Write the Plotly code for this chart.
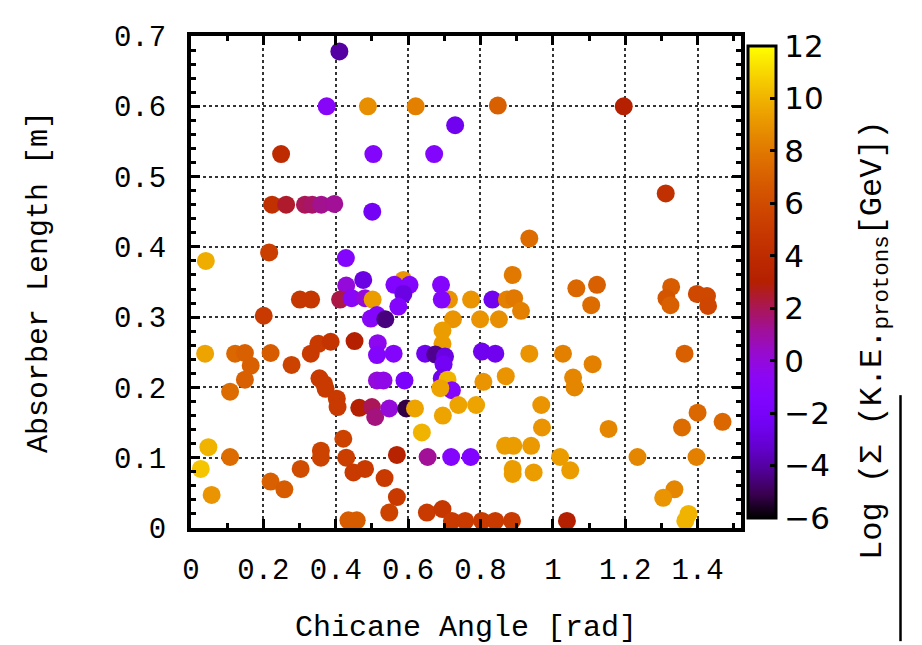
import math
import plotly.graph_objects as go

# chicane angle [rad]
angle = [
    0.410, 0.375, 0.489, 0.621, 0.848, 1.196, 0.730, 0.249, 0.504, 0.672,
    1.312, 0.224, 0.263, 0.315, 0.335, 0.360, 0.396, 0.501, 0.216, 0.041,
    0.428, 0.935, 0.476, 0.429, 0.889, 0.587, 0.562, 0.604, 0.587, 0.573,
    0.691, 0.713, 0.693, 0.774, 0.833, 0.873, 0.893, 0.912, 0.724, 0.799,
    0.851, 0.301, 0.332, 0.412, 0.444, 0.481, 0.502, 0.201, 0.497, 0.514,
    0.537, 1.065, 1.122, 1.106, 1.327, 1.314, 1.325, 1.398, 1.426, 1.429,
    0.695, 0.695, 0.516, 0.514, 0.560, 0.647, 0.675, 0.702, 0.804, 0.841,
    0.935, 1.028, 1.364, 0.039, 0.122, 0.149, 0.220, 0.331, 0.352, 0.386,
    0.452, 0.278, 0.165, 0.149, 0.108, 0.355, 0.368, 0.372, 0.403, 0.405,
    0.465, 0.500, 0.509, 0.698, 0.693, 0.709, 0.721, 0.689, 0.514, 0.532,
    0.590, 0.808, 0.870, 1.110, 1.056, 1.060, 0.548, 0.595, 0.619, 0.739,
    0.788, 0.696, 0.638, 0.968, 0.970, 1.400, 1.469, 1.357, 1.154, 0.048,
    0.108, 0.027, 0.057, 0.421, 0.359, 0.359, 0.429, 0.449, 0.481, 0.535,
    0.303, 0.220, 0.258, 0.569, 0.654, 0.719, 0.773, 0.868, 0.891, 0.940,
    0.889, 0.889, 0.947, 1.020, 1.048, 1.234, 1.397, 1.336, 1.305, 1.375,
    1.366, 0.569, 0.548, 0.652, 0.695, 0.721, 0.758, 0.804, 0.841, 0.887,
    1.039, 0.435, 0.458,
]

# absorber length [m]
length = [
    0.678, 0.600, 0.600, 0.600, 0.601, 0.600, 0.573, 0.532, 0.532, 0.532,
    0.476, 0.460, 0.460, 0.460, 0.460, 0.460, 0.461, 0.450, 0.392, 0.380,
    0.384, 0.412, 0.353, 0.345, 0.360, 0.353, 0.346, 0.346, 0.333, 0.315,
    0.346, 0.325, 0.325, 0.325, 0.325, 0.325, 0.327, 0.309, 0.297, 0.297,
    0.297, 0.325, 0.325, 0.325, 0.327, 0.327, 0.325, 0.302, 0.298, 0.303,
    0.297, 0.341, 0.346, 0.317, 0.343, 0.327, 0.317, 0.333, 0.330, 0.316,
    0.281, 0.262, 0.263, 0.246, 0.248, 0.248, 0.247, 0.244, 0.251, 0.248,
    0.248, 0.248, 0.248, 0.248, 0.248, 0.249, 0.249, 0.248, 0.262, 0.265,
    0.266, 0.232, 0.231, 0.211, 0.194, 0.213, 0.205, 0.198, 0.184, 0.172,
    0.171, 0.172, 0.158, 0.233, 0.213, 0.211, 0.196, 0.199, 0.210, 0.210,
    0.210, 0.208, 0.216, 0.233, 0.214, 0.200, 0.170, 0.170, 0.170, 0.175,
    0.175, 0.160, 0.136, 0.175, 0.143, 0.164, 0.151, 0.143, 0.141, 0.115,
    0.101, 0.084, 0.047, 0.127, 0.110, 0.100, 0.100, 0.079, 0.084, 0.071,
    0.084, 0.066, 0.055, 0.104, 0.101, 0.101, 0.101, 0.117, 0.117, 0.117,
    0.084, 0.077, 0.079, 0.101, 0.082, 0.101, 0.101, 0.055, 0.043, 0.020,
    0.010, 0.044, 0.022, 0.022, 0.027, 0.010, 0.010, 0.010, 0.010, 0.010,
    0.010, 0.011, 0.011,
]

# log of summed proton kinetic energy [GeV]
log_ke = [
    -4.0, -1.0, 8.8, 8.3, 7.0, 3.0, -2.5, 4.0, -1.2, -1.2,
    4.3, 4.3, 2.5, 2.0, 1.8, 1.3, 1.2, -2.3, 5.3, 9.8,
    -1.3, 7.5, -2.8, 0.0, 8.0, 9.0, -1.4, -1.3, -2.8, -1.3,
    -1.3, 9.0, -1.2, 9.0, -2.5, 8.3, 8.0, 8.3, 9.0, 9.0,
    8.8, 4.8, 4.8, 2.2, -0.8, 0.0, 9.3, 5.0, -1.0, -1.3,
    -4.5, 7.3, 7.0, 7.5, 6.8, 6.5, 7.0, 5.8, 5.8, 5.7,
    9.3, 9.3, -0.5, -1.2, -1.3, -2.5, -4.3, -2.8, -2.5, -2.5,
    9.0, 8.3, 7.0, 9.5, 7.3, 7.0, 6.8, 5.0, 5.0, 4.6,
    3.0, 5.5, 7.0, 7.0, 7.5, 5.0, 5.0, 5.0, 5.0, 5.0,
    3.0, 2.0, 1.5, -2.3, -2.5, 10.0, -1.2, 9.5, 0.0, -0.3,
    -1.8, 9.0, 9.0, 8.3, 8.5, 8.5, 0.0, -5.2, 9.5, 9.5,
    9.5, 9.5, 10.0, 9.0, 9.0, 7.3, 7.3, 7.5, 8.5, 10.0,
    7.5, 10.5, 9.0, 5.5, 5.5, 5.5, 5.3, 5.0, 5.0, 5.0,
    6.0, 7.0, 6.8, 3.3, 1.2, -1.2, -1.5, 9.3, 9.3, 9.2,
    9.3, 9.3, 9.3, 9.3, 9.3, 8.5, 8.3, 8.5, 9.0, 10.0,
    10.0, 5.0, 5.5, 5.0, 4.8, 5.0, 5.0, 5.0, 5.0, 5.0,
    3.0, 6.8, 6.8,
]

cb_ticks = [-6, -4, -2, 0, 2, 4, 6, 8, 10, 12]


def gnuplot_palette(n=21):
    # gnuplot default pm3d palette (rgbformulae 7,5,15)
    stops = []
    for i in range(n):
        g = i / (n - 1)
        r = math.sqrt(g)
        gr = g ** 3
        b = max(math.sin(2 * math.pi * g), 0.0)
        stops.append([g, "rgb(%d,%d,%d)" % (round(r * 255), round(gr * 255), round(b * 255))])
    return stops


mono = "Liberation Mono, Courier New, monospace"

fig = go.Figure()
fig.add_trace(go.Scatter(
    x=angle, y=length, mode="markers",
    marker=dict(
        size=18, color=log_ke, colorscale=gnuplot_palette(),
        cmin=-6, cmax=12, line=dict(width=0),
        colorbar=dict(
            x=1.0127, xanchor="left", xpad=0, y=0.5, yanchor="middle",
            len=1, lenmode="fraction", thickness=28,
            outlinewidth=3, outlinecolor="black",
            tickvals=cb_ticks, ticks="inside", ticklen=7, tickwidth=3,
            tickcolor="black", tickprefix="\u00a0\u00a0",
            tickfont=dict(family="DejaVu Sans", size=31, color="black"),
        ),
    ),
    showlegend=False,
))

axis_common = dict(
    showline=True, linecolor="black", linewidth=4, mirror="ticks",
    ticks="inside", ticklen=9, tickwidth=3, tickcolor="black",
    showgrid=True, gridcolor="#333333", gridwidth=1.5, griddash="dot",
    zeroline=False,
    tickfont=dict(family=mono, size=29, color="black"),
    title_font=dict(family=mono, size=30, color="black"),
)

fig.update_xaxes(
    range=[0, 1.52], tick0=0, dtick=0.2,
    minor=dict(dtick=0.1, ticks="inside", ticklen=5, tickwidth=3, tickcolor="black", showgrid=False),
    title_text="Chicane Angle [rad]", title_standoff=29, ticklabelstandoff=12,
    **axis_common,
)
fig.update_yaxes(
    range=[0, 0.7], tick0=0, dtick=0.1,
    minor=dict(dtick=0.02, ticks="inside", ticklen=5, tickwidth=3, tickcolor="black", showgrid=False),
    title_text="Absorber Length [m]", title_standoff=58, ticklabelstandoff=15,
    **axis_common,
)

# colorbar title, placed by hand so it runs off the top like the original
fig.add_annotation(
    text="Log (Σ (K.E.<sub>protons</sub>[GeV])",
    xref="paper", yref="paper", x=1.2436, y=-0.069,
    xanchor="center", yanchor="bottom", textangle=-90, showarrow=False,
    font=dict(family=mono, size=32, color="black"),
)

# stray vertical rule near the right edge of the page
fig.add_shape(type="line", xref="paper", yref="paper",
              x0=1.29, x1=1.29, y0=0.27, y1=-0.23,
              line=dict(color="black", width=2.5))

# the page body adds an 8px offset; the figure is shrunk by the same amount
# so it fits the window exactly
fig.update_layout(
    width=914, height=637,
    margin=dict(l=183, r=181, t=28, b=117, autoexpand=False),
    paper_bgcolor="white", plot_bgcolor="white",
)

fig.write_html("out.html")
